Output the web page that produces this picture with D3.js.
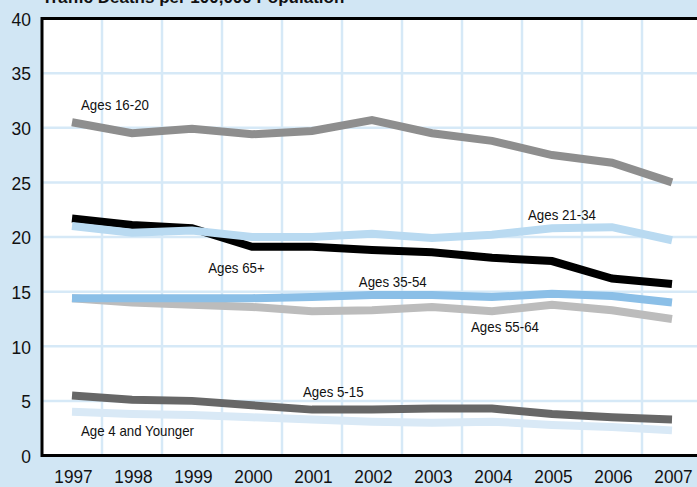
<!DOCTYPE html>
<html><head><meta charset="utf-8">
<script src="https://cdn.jsdelivr.net/npm/d3@7"></script>
<style>
html,body{margin:0;padding:0;background:#d1e6f4;}
svg{display:block;}
text{font-family:"Liberation Sans Narrow","Arial Narrow","Liberation Sans",Arial,sans-serif;fill:#111;}
</style></head>
<body>
<svg id="c" width="697" height="487"></svg>
<script>
const years = [1997,1998,1999,2000,2001,2002,2003,2004,2005,2006,2007];
const yTicks = [0,5,10,15,20,25,30,35,40];
const title = "Traffic Deaths per 100,000 Population";

const ages16to20 = [30.5,29.5,29.9,29.4,29.7,30.7,29.5,28.8,27.5,26.8,25.0];
const ages65plus = [21.7,21.1,20.8,19.1,19.1,18.8,18.6,18.1,17.8,16.2,15.7];
const ages21to34 = [21.0,20.4,20.6,20.0,20.0,20.3,19.9,20.2,20.8,20.9,19.7];
const ages35to54 = [14.4,14.4,14.4,14.4,14.5,14.7,14.7,14.5,14.8,14.6,14.0];
const ages55to64 = [14.4,14.0,13.8,13.6,13.2,13.3,13.6,13.2,13.8,13.3,12.5];
const ages5to15  = [5.5,5.1,5.0,4.6,4.2,4.2,4.3,4.3,3.8,3.5,3.3];
const age4under  = [4.0,3.8,3.7,3.5,3.3,3.1,3.0,3.1,2.8,2.6,2.3];

const seriesNames = ["Age 4 and Younger","Ages 5-15","Ages 55-64","Ages 35-54","Ages 65+","Ages 21-34","Ages 16-20"];
const seriesValues = [age4under,ages5to15,ages55to64,ages35to54,ages65plus,ages21to34,ages16to20];
const seriesColors = ["#d9e9f6","#676767","#bcbcbc","#8bbfe7","#000000","#b9daf1","#8e8e8e"];
// label anchors in data space (year, value)
const labelYears  = [1997.15,2000.85,2003.65,2001.78,1999.27,2004.6,1997.15];
const labelValues = [2.24,5.8,11.8,15.9,17.2,22.0,32.1];

const svg = d3.select("#c");
const W = 697, H = 487;
const mLeft = 42, mTop = 18.5, mBottom = 455.5;
const x = d3.scaleLinear().domain([1997,2007]).range([72,672]);
const y = d3.scaleLinear().domain([0,40]).range([mBottom, mTop]);

// plot background
svg.append("rect").attr("x",mLeft).attr("y",mTop).attr("width",W-mLeft).attr("height",mBottom-mTop).attr("fill","#ffffff");

// grid
const grid = svg.append("g");
grid.selectAll("line.h").data(yTicks.filter(d=>d>0 && d<40)).join("line")
  .attr("x1",mLeft).attr("x2",W).attr("y1",d=>y(d)).attr("y2",d=>y(d))
  .attr("stroke","#d6e9f7").attr("stroke-width",2.5);
grid.selectAll("line.v").data(years.slice(0,-1).map(d=>d+0.5)).join("line")
  .attr("x1",d=>x(d)).attr("x2",d=>x(d)).attr("y1",mTop).attr("y2",mBottom)
  .attr("stroke","#d6e9f7").attr("stroke-width",2.5);

// lines
const line = d3.line().x((d,i)=>x(years[i])).y(d=>y(d));
svg.append("g").selectAll("path").data(seriesValues).join("path")
  .attr("d",d=>line(d)).attr("fill","none")
  .attr("stroke",(d,i)=>seriesColors[i]).attr("stroke-width",8)
  .attr("stroke-linejoin","miter").attr("stroke-linecap","butt");

// series labels
svg.append("g").selectAll("text").data(seriesNames).join("text")
  .attr("transform",(d,i)=>`translate(${x(labelYears[i])},${y(labelValues[i])}) scale(0.95,1)`)
  .attr("dy","0.36em")
  .style("font-size","14px").text(d=>d);

// frame
svg.append("path")
  .attr("d",`M${W},${mTop} H${mLeft} V${mBottom} H${W}`)
  .attr("fill","none").attr("stroke","#000").attr("stroke-width",3);

// axes
const yAxis = d3.axisLeft(y).tickValues(yTicks).tickSize(0).tickPadding(0);
const gy = svg.append("g").attr("transform",`translate(31,0)`).call(yAxis);
gy.select(".domain").remove();
gy.selectAll(".tick text")
  .attr("x",null).attr("dy","0.36em")
  .attr("transform","scale(0.92,1)")
  .style("font-size","19px").attr("fill","#111");

const xAxis = d3.axisBottom(x).tickValues(years).tickFormat(d3.format("d")).tickSize(0).tickPadding(0);
const gx = svg.append("g").attr("transform",`translate(0,${mBottom})`).call(xAxis);
gx.select(".domain").remove();
gx.selectAll(".tick text")
  .attr("y",null).attr("dy",null)
  .attr("transform","translate(1,27.5) scale(0.93,1)")
  .style("font-size","18.5px").attr("fill","#111");

// title (cut off at top like the reference)
svg.append("text").attr("x",mLeft).attr("y",3)
  .style("font-size","17px").style("font-weight","bold").text(title);
</script>
</body></html>
